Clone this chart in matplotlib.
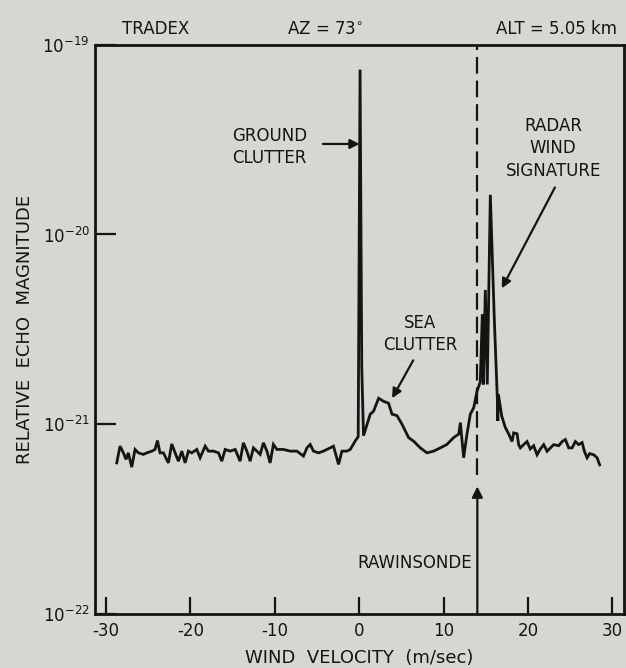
import numpy as np
import matplotlib.pyplot as plt
from matplotlib.ticker import NullLocator

plt.rcParams['font.family'] = ['DejaVu Sans']
plt.rcParams['mathtext.fontset'] = 'dejavusans'
plt.rcParams['lines.scale_dashes'] = False

# wind velocity (m/sec) and relative echo magnitude
velocity = [
    -28.74, -28.35, -27.95, -27.64, -27.37, -26.96, -26.57, -26.18, -25.58, -25.18,
    -24.58, -24.20, -23.92, -23.61, -23.21, -22.62, -22.22, -21.82, -21.43, -21.03,
    -20.64, -20.25, -19.85, -19.25, -18.86, -18.26, -17.87, -17.27, -16.68, -16.29,
    -15.89, -15.30, -14.70, -14.12, -13.73, -13.32, -12.93, -12.54, -12.13, -11.74,
    -11.35, -10.94, -10.56, -10.17, -9.76, -8.98, -8.18, -7.38, -6.61, -6.20,
    -5.81, -5.42, -4.82, -4.24, -3.44, -3.05, -2.45, -2.05, -1.45, -1.06,
    -0.48, -0.12, 0.10, 0.30, 0.51,
    1.31, 1.70, 2.30, 2.88, 3.48, 3.88, 4.47, 5.07, 5.85, 6.44,
    7.24, 8.03, 8.82, 9.61, 10.40, 11.19, 11.79, 11.99, 12.38, 12.77,
    13.17, 13.57, 13.96, 14.35, 14.59, 14.71, 14.95, 15.18, 15.54, 16.01,
    16.37, 16.43, 16.49, 16.90, 17.32, 17.71, 18.11, 18.31, 18.71, 18.90,
    19.10, 19.49, 19.89, 20.28, 20.68, 21.08, 21.47, 21.87, 22.27, 22.66,
    23.05, 23.65, 24.05, 24.44, 24.83, 25.23, 25.62, 26.01, 26.42, 26.69,
    27.01, 27.32, 27.79, 28.20, 28.50,
]
magnitude = [
    6.25e-22, 7.66e-22, 7.06e-22, 6.52e-22, 7.06e-22, 5.94e-22, 7.36e-22, 7.06e-22, 6.93e-22, 7.06e-22,
    7.21e-22, 7.36e-22, 8.20e-22, 7.06e-22, 7.06e-22, 6.25e-22, 7.87e-22, 7.06e-22, 6.38e-22, 7.21e-22,
    6.25e-22, 7.21e-22, 7.06e-22, 7.36e-22, 6.65e-22, 7.66e-22, 7.21e-22, 7.21e-22, 7.06e-22, 6.38e-22,
    7.36e-22, 7.21e-22, 7.36e-22, 6.38e-22, 7.98e-22, 7.21e-22, 6.38e-22, 7.50e-22, 7.21e-22, 6.93e-22,
    7.98e-22, 7.21e-22, 6.25e-22, 7.82e-22, 7.36e-22, 7.36e-22, 7.21e-22, 7.21e-22, 6.79e-22, 7.50e-22,
    7.82e-22, 7.21e-22, 7.06e-22, 7.21e-22, 7.50e-22, 7.66e-22, 6.14e-22, 7.21e-22, 7.21e-22, 7.36e-22,
    8.14e-22, 8.60e-22, 7.40e-20, 2.00e-21, 8.70e-22,
    1.13e-21, 1.17e-21, 1.37e-21, 1.32e-21, 1.29e-21, 1.13e-21, 1.11e-21, 1.00e-21, 8.50e-22, 8.14e-22,
    7.50e-22, 7.06e-22, 7.21e-22, 7.50e-22, 7.82e-22, 8.50e-22, 8.86e-22, 1.02e-21, 6.65e-22, 8.86e-22,
    1.13e-21, 1.22e-21, 1.49e-21, 1.67e-21, 3.80e-21, 1.62e-21, 5.10e-21, 1.62e-21, 1.62e-20, 3.60e-21,
    1.37e-21, 1.04e-21, 1.44e-21, 1.10e-21, 9.60e-22, 8.90e-22, 8.10e-22, 9.00e-22, 8.90e-22, 7.80e-22,
    7.50e-22, 7.80e-22, 8.10e-22, 7.40e-22, 7.70e-22, 6.90e-22, 7.40e-22, 7.80e-22, 7.20e-22, 7.50e-22,
    7.80e-22, 7.70e-22, 8.10e-22, 8.30e-22, 7.50e-22, 7.50e-22, 8.10e-22, 7.80e-22, 8.00e-22, 7.20e-22,
    6.65e-22, 7.00e-22, 6.90e-22, 6.65e-22, 6.10e-22,
]
rawinsonde_v = 14.0

x_ticks = [-30, -20, -10, 0, 10, 20, 30]
y_ticks = [1e-22, 1e-21, 1e-20, 1e-19]

bg = '#d6d6d3'
ink = '#141414'

fig = plt.figure(figsize=(6.26, 6.68), dpi=100, facecolor=bg)
ax = fig.add_axes([0.152, 0.081, 0.845, 0.852], facecolor=bg)

ax.plot(velocity, magnitude, color=ink, lw=2.0, solid_joinstyle='miter')

# rawinsonde wind marker
ax.plot([rawinsonde_v, rawinsonde_v], [5.4e-22, 1e-19], color=ink, lw=1.6,
        dashes=(12, 5))
ax.annotate('', xy=(rawinsonde_v, 4.7e-22), xytext=(rawinsonde_v, 1e-22),
            arrowprops=dict(arrowstyle='-|>', color=ink, lw=1.6,
                            mutation_scale=16, shrinkA=0, shrinkB=0))

ax.set_yscale('log')
ax.set_xlim(-31.3, 31.4)
ax.set_ylim(1e-22, 1e-19)
ax.set_xticks(x_ticks)
ax.set_xticklabels([str(t) for t in x_ticks])
ax.set_yticks(y_ticks)
ax.yaxis.set_minor_locator(NullLocator())

for s in ax.spines.values():
    s.set_linewidth(2.0)
    s.set_color(ink)
ax.tick_params(axis='x', direction='in', length=12, width=1.6, labelsize=12,
               colors=ink, pad=6)
ax.tick_params(axis='y', direction='in', length=15, width=1.6, labelsize=12,
               colors=ink, pad=4)

ax.set_xlabel('WIND  VELOCITY  (m/sec)', fontsize=13, color=ink, labelpad=6)
ax.set_ylabel('RELATIVE  ECHO  MAGNITUDE', fontsize=13, color=ink, labelpad=6)

# header line
fig.text(0.248, 0.957, 'TRADEX', fontsize=12, ha='center', va='center', color=ink)
fig.text(0.52, 0.957, 'AZ = 73$^{\\circ}$', fontsize=12, ha='center', va='center', color=ink)
fig.text(0.986, 0.957, 'ALT = 5.05 km', fontsize=12, ha='right', va='center', color=ink)

arrow = dict(arrowstyle='-|>', color=ink, lw=1.6, mutation_scale=14,
             shrinkA=0, shrinkB=0)
ax.annotate('', xy=(0.05, 3.0e-20), xytext=(-4.3, 3.0e-20), arrowprops=arrow)
ax.text(-10.6, 2.9e-20, 'GROUND\nCLUTTER', fontsize=12, ha='center', va='center',
        color=ink, linespacing=1.3)

ax.annotate('', xy=(3.9, 1.37e-21), xytext=(6.4, 2.17e-21), arrowprops=arrow)
ax.text(7.2, 2.98e-21, 'SEA\nCLUTTER', fontsize=12, ha='center', va='center',
        color=ink, linespacing=1.3)

ax.annotate('', xy=(16.9, 5.2e-21), xytext=(23.2, 1.77e-20), arrowprops=arrow)
ax.text(23.0, 2.84e-20, 'RADAR\nWIND\nSIGNATURE', fontsize=12, ha='center',
        va='center', color=ink, linespacing=1.3)

ax.text(13.4, 1.85e-22, 'RAWINSONDE', fontsize=12, ha='right', va='center', color=ink)

fig.savefig('out.png', dpi=100, facecolor=bg)
